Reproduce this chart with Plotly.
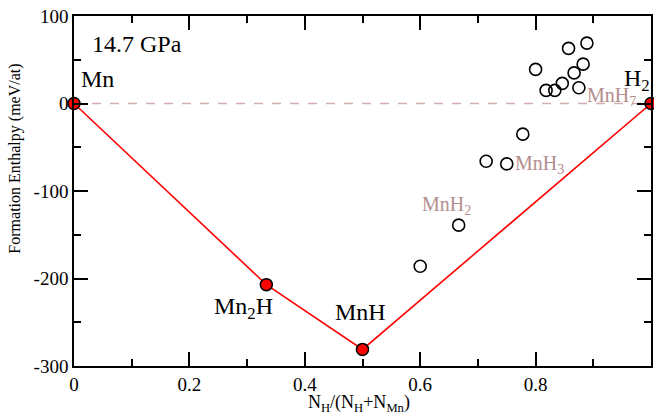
import plotly.graph_objects as go

# Data
hull_x = [0.0, 1/3, 0.5, 1.0]
hull_y = [0.0, -207.0, -281.0, 0.0]
hull_labels = ["Mn", "Mn<sub>2</sub>H", "MnH", "H<sub>2</sub>"]

other_x = [0.6, 0.6667, 0.7143, 0.75, 0.7778, 0.8, 0.8182, 0.8333, 0.8462,
           0.8571, 0.8667, 0.875, 0.8824, 0.8889]
other_y = [-186, -139, -66, -69, -35, 39, 15, 15, 23, 63, 35, 18, 45, 69]

phase_labels = ["MnH<sub>2</sub>", "MnH<sub>3</sub>", "MnH<sub>7</sub>"]
pressure_label = "14.7 GPa"

x_ticks = [0, 0.2, 0.4, 0.6, 0.8, 1.0]
x_ticktext = ["0", "0.2", "0.4", "0.6", "0.8", "1"]
y_ticks = [-300, -200, -100, 0, 100]
y_ticktext = ["-300", "-200", "-100", "0", "100"]

FONT = "Liberation Serif, Times New Roman, serif"
LABEL_COL = "#b48e8e"

fig = go.Figure()

# reference zero line
fig.add_trace(go.Scatter(x=[0, 1], y=[0, 0], mode="lines",
                         line=dict(color="#d4aeae", width=1.3, dash="dash"),
                         hoverinfo="skip", showlegend=False))

fig.add_trace(go.Scatter(x=other_x, y=other_y, mode="markers",
                         marker=dict(size=12, color="rgba(0,0,0,0)",
                                     line=dict(color="black", width=1.6)),
                         showlegend=False))

fig.add_trace(go.Scatter(x=hull_x, y=hull_y, mode="lines+markers",
                         line=dict(color="red", width=1.6),
                         marker=dict(size=12, color="red",
                                     line=dict(color="black", width=1.5)),
                         cliponaxis=False, showlegend=False))

BIG = 24
SMALL = 20
ann = []
ann.append(dict(x=0.027, y=68, text=pressure_label, xanchor="left", yanchor="middle",
                font=dict(size=BIG, color="black", family=FONT)))
ann.append(dict(x=0.008, y=28, text=hull_labels[0], xanchor="left", yanchor="middle",
                font=dict(size=BIG, color="black", family=FONT)))
ann.append(dict(x=0.294, y=-234, text=hull_labels[1], xanchor="center", yanchor="middle",
                font=dict(size=BIG, color="black", family=FONT)))
ann.append(dict(x=0.497, y=-238, text=hull_labels[2], xanchor="center", yanchor="middle",
                font=dict(size=BIG, color="black", family=FONT)))
ann.append(dict(x=0.976, y=27, text=hull_labels[3], xanchor="center", yanchor="middle",
                font=dict(size=BIG, color="black", family=FONT)))
ann.append(dict(x=0.645, y=-116, text=phase_labels[0], xanchor="center", yanchor="middle",
                font=dict(size=SMALL, color=LABEL_COL, family=FONT)))
ann.append(dict(x=0.807, y=-70, text=phase_labels[1], xanchor="center", yanchor="middle",
                font=dict(size=SMALL, color=LABEL_COL, family=FONT)))
ann.append(dict(x=0.931, y=8, text=phase_labels[2], xanchor="center", yanchor="middle",
                font=dict(size=SMALL, color=LABEL_COL, family=FONT)))
# axis titles
ann.append(dict(x=0.0, xref="paper", xshift=-59, y=-63, text="Formation Enthalpy (meV/at)",
                textangle=-90, xanchor="center", yanchor="middle",
                font=dict(size=16, color="black", family=FONT)))
ann.append(dict(x=0.494, y=0.0, yref="paper", yshift=-37,
                text="N<sub>H</sub>/(N<sub>H</sub>+N<sub>Mn</sub>)",
                xanchor="center", yanchor="middle",
                font=dict(size=18, color="black", family=FONT)))
for a in ann:
    a.setdefault("showarrow", False)
fig.update_layout(annotations=ann)

axis_common = dict(showgrid=False, zeroline=False, showline=True, linecolor="black",
                   linewidth=1.5, mirror="allticks", ticks="inside", ticklen=14,
                   tickwidth=1.5, tickcolor="black",
                   tickfont=dict(size=19, family=FONT, color="black"))

fig.update_xaxes(range=[0, 1], tickvals=x_ticks, ticktext=x_ticktext,
                 minor=dict(dtick=0.1, tick0=0, ticks="inside", ticklen=7,
                            tickwidth=1.5, tickcolor="black"),
                 **axis_common)
fig.update_yaxes(range=[-300, 100], tickvals=y_ticks, ticktext=y_ticktext,
                 minor=dict(dtick=50, tick0=0, ticks="inside", ticklen=7,
                            tickwidth=1.5, tickcolor="black"),
                 **axis_common)

fig.update_layout(width=654, height=414,
                  margin=dict(l=74, r=1, t=16, b=48),
                  plot_bgcolor="white", paper_bgcolor="white",
                  font=dict(family=FONT))

fig.write_html("out.html")
